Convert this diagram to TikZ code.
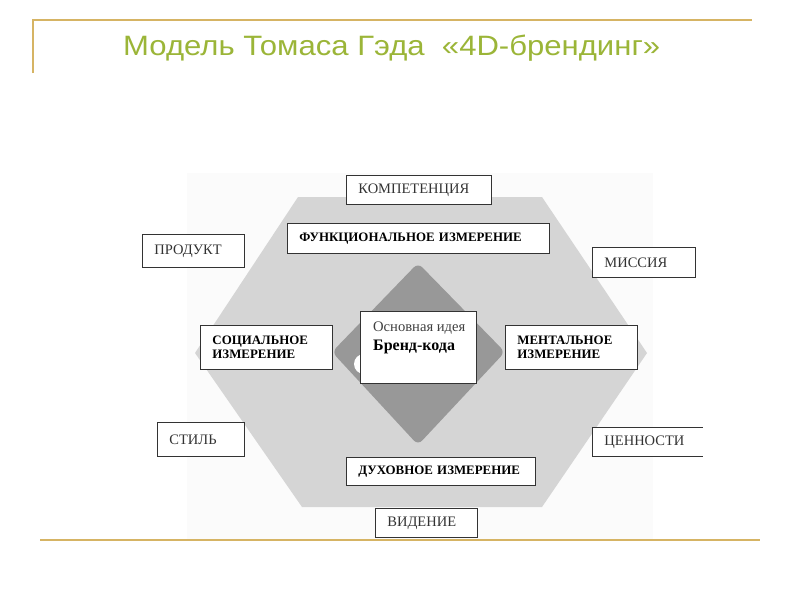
\documentclass[tikz,border=0pt]{standalone}
\usepackage{fontspec}
\setmainfont{Liberation Serif}
\newfontfamily\titlefont[FakeStretch=1.11]{Liberation Sans}
\definecolor{titlegreen}{RGB}{155,181,56}
\definecolor{goldline}{RGB}{214,180,100}
\definecolor{hexgray}{RGB}{213,213,213}
\definecolor{diagray}{RGB}{152,152,152}
\definecolor{paper}{RGB}{251,251,251}
\begin{document}
\begin{tikzpicture}[x=1pt,y=-1pt,
  box/.style={draw=black!80, line width=0.9pt, fill=white, anchor=north west,
    inner xsep=12pt, inner ysep=0pt, align=left,
    font=\fontsize{14.5}{16}\selectfont, text=black!80},
  bbox/.style={box, font=\fontsize{12.9}{14}\selectfont\bfseries, text=black},
  goldrule/.style={draw=goldline, line width=1.6pt}]
\useasboundingbox (0,0) rectangle (800,600);
% frame lines and title
\draw[goldrule] (33,73) -- (33,20) -- (752,20);
\draw[goldrule] (40,540) -- (760,540);
\node[anchor=base west, inner sep=0, text=titlegreen,
  font=\titlefont\fontsize{28}{30}\selectfont] (title) at (123,55)
  {Модель Томаса Гэда\ \ «4D-брендинг»};
% faint scanned background
\fill[paper] (187,173) rectangle (653,539);
% hexagon and diamond
\fill[hexgray] (298,197) -- (542,197) -- (647,353) -- (542,507) -- (302,507) -- (195,353) -- cycle;
\fill[diagray, rounded corners=6pt] (418,263) -- (505,352) -- (418,445) -- (332,352) -- cycle;
\fill[white] (364,364) circle[radius=10];
% outer boxes
\node[box, minimum width=145, minimum height=29, text width=121] (komp) at (346,175) {КОМПЕТЕНЦИЯ};
\node[box, minimum width=102, minimum height=33, text width=78] (prod) at (142,234) {ПРОДУКТ};
\node[box, minimum width=103, minimum height=30, text width=79] (miss) at (592,247) {МИССИЯ};
\node[box, minimum width=87, minimum height=34, text width=63] (stil) at (157,422) {СТИЛЬ};
\node[box, draw=none, minimum width=110, minimum height=29, text width=86] (cenn) at (592,427) {ЦЕННОСТИ};
\draw[black!80, line width=0.9pt] (cenn.north east) -- (cenn.north west) -- (cenn.south west) -- (cenn.south east);
\node[box, minimum width=102, minimum height=29, text width=78] (vid) at (375,508) {ВИДЕНИЕ};
% dimension boxes
\node[bbox, minimum width=262, minimum height=30, text width=238] (func) at (287,223) {ФУНКЦИОНАЛЬНОЕ ИЗМЕРЕНИЕ};
\node[bbox, minimum width=132, minimum height=44, text width=108] (soc) at (200,325) {СОЦИАЛЬНОЕ\\ИЗМЕРЕНИЕ};
\node[bbox, minimum width=132, minimum height=44, text width=108] (ment) at (505,325) {МЕНТАЛЬНОЕ\\ИЗМЕРЕНИЕ};
\node[bbox, minimum width=189, minimum height=28, text width=165] (duh) at (346,457) {ДУХОВНОЕ ИЗМЕРЕНИЕ};
% core
\node[draw=black!80, line width=0.9pt, fill=white, anchor=north west, minimum width=116, minimum height=72, inner sep=0] (core) at (360,311) {};
\node[anchor=base west, inner sep=0, text=black!75, font=\fontsize{14.6}{16}\selectfont] (coreA) at (373,331) {Основная идея};
\node[anchor=base west, inner sep=0, text=black, font=\fontsize{16}{18}\selectfont\bfseries] (coreB) at (373,350) {Бренд-кода};
\end{tikzpicture}
\end{document}
